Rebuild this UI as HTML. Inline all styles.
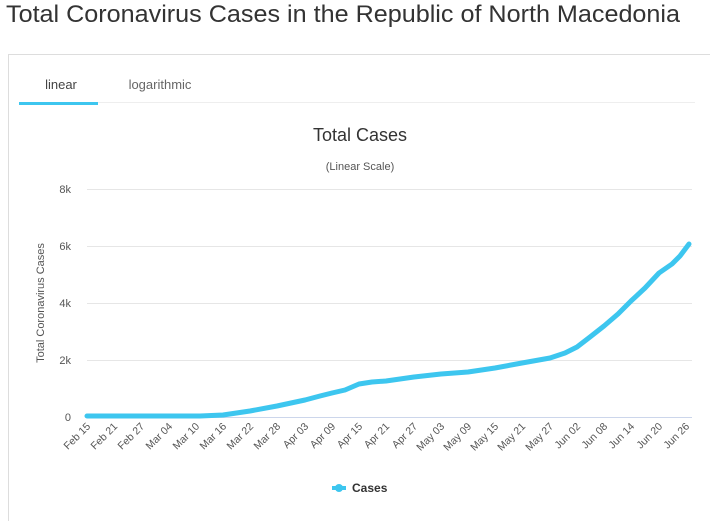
<!DOCTYPE html>
<html><head><meta charset="utf-8"><style>
body{margin:0;width:710px;height:521px;background:#fff;overflow:hidden;font-family:"Liberation Sans",sans-serif;}
</style></head><body>
<svg width="710" height="521" xmlns="http://www.w3.org/2000/svg" font-family="Liberation Sans, sans-serif">
<text x="6" y="22" font-size="24" fill="#333" textLength="674" lengthAdjust="spacingAndGlyphs">Total Coronavirus Cases in the Republic of North Macedonia</text>
<rect x="8.5" y="54.5" width="720" height="480" fill="none" stroke="#ddd"/>
<line x1="19" y1="102.5" x2="695" y2="102.5" stroke="#eee"/>
<text x="61" y="89" font-size="13" fill="#444" text-anchor="middle">linear</text>
<text x="160" y="89" font-size="13" fill="#666" text-anchor="middle">logarithmic</text>
<rect x="19" y="102" width="79" height="3" fill="#3dc6ef"/>
<text x="360" y="141" font-size="18" fill="#333" text-anchor="middle">Total Cases</text>
<text x="360" y="170" font-size="11" fill="#555" text-anchor="middle">(Linear Scale)</text>
<g stroke="#e6e6e6"><line x1="87" y1="189.5" x2="692" y2="189.5"/><line x1="87" y1="246.5" x2="692" y2="246.5"/><line x1="87" y1="303.5" x2="692" y2="303.5"/><line x1="87" y1="360.5" x2="692" y2="360.5"/></g>
<line x1="87" y1="417.5" x2="692" y2="417.5" stroke="#ccd6eb"/>
<g font-size="11" fill="#555" text-anchor="end"><text x="71" y="193">8k</text><text x="71" y="250">6k</text><text x="71" y="307">4k</text><text x="71" y="364">2k</text><text x="71" y="421">0</text></g>
<text transform="translate(44,303) rotate(-90)" font-size="11" fill="#555" text-anchor="middle">Total Coronavirus Cases</text>
<polyline fill="none" stroke="#3dc6ef" stroke-width="5" stroke-linejoin="round" stroke-linecap="round" points="87,416 200,416 223,415 250,411 277,406 305,400 320,396 332,393 345,390 359,384 372,382 386,381 400,379 414,377 441,374 468,372 495,368 522,363 550,358 565,353 577,347 590,337 604,326 618,314 631,301 645,288 659,273 672,264 680,256 689,244"/>
<g font-size="10.5" fill="#555" text-anchor="end">
<text transform="translate(91,427) rotate(-45)">Feb 15</text>
<text transform="translate(118,427) rotate(-45)">Feb 21</text>
<text transform="translate(145,427) rotate(-45)">Feb 27</text>
<text transform="translate(173,427) rotate(-45)">Mar 04</text>
<text transform="translate(200,427) rotate(-45)">Mar 10</text>
<text transform="translate(227,427) rotate(-45)">Mar 16</text>
<text transform="translate(254,427) rotate(-45)">Mar 22</text>
<text transform="translate(281,427) rotate(-45)">Mar 28</text>
<text transform="translate(309,427) rotate(-45)">Apr 03</text>
<text transform="translate(336,427) rotate(-45)">Apr 09</text>
<text transform="translate(363,427) rotate(-45)">Apr 15</text>
<text transform="translate(390,427) rotate(-45)">Apr 21</text>
<text transform="translate(418,427) rotate(-45)">Apr 27</text>
<text transform="translate(445,427) rotate(-45)">May 03</text>
<text transform="translate(472,427) rotate(-45)">May 09</text>
<text transform="translate(499,427) rotate(-45)">May 15</text>
<text transform="translate(526,427) rotate(-45)">May 21</text>
<text transform="translate(554,427) rotate(-45)">May 27</text>
<text transform="translate(581,427) rotate(-45)">Jun 02</text>
<text transform="translate(608,427) rotate(-45)">Jun 08</text>
<text transform="translate(635,427) rotate(-45)">Jun 14</text>
<text transform="translate(663,427) rotate(-45)">Jun 20</text>
<text transform="translate(690,427) rotate(-45)">Jun 26</text>
</g>
<line x1="332" y1="488" x2="346" y2="488" stroke="#3dc6ef" stroke-width="4"/>
<circle cx="339" cy="488" r="4" fill="#3dc6ef"/>
<text x="352" y="492" font-size="12" font-weight="bold" fill="#333">Cases</text>
</svg>
</body></html>
